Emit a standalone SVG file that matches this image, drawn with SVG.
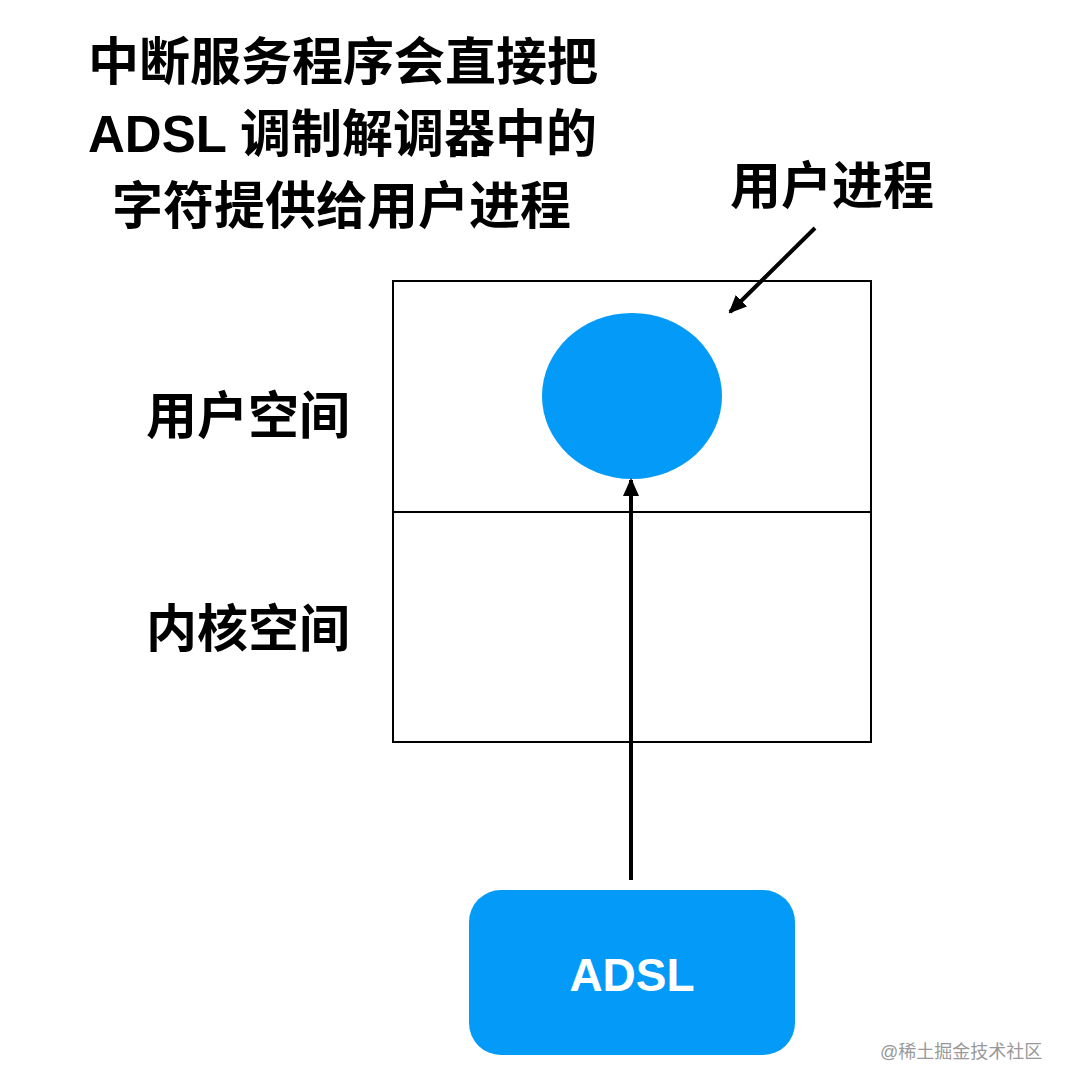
<svg xmlns="http://www.w3.org/2000/svg" width="1070" height="1090" viewBox="0 0 1070 1090">
<style>
.t{font-family:"Liberation Sans","Noto Sans CJK SC",sans-serif;font-weight:bold;fill:#000}
</style>
<defs>
<marker id="ah2" markerWidth="18" markerHeight="18" refX="16" refY="9" orient="auto" markerUnits="userSpaceOnUse" viewBox="0 0 18 18">
<path d="M0,1 L18,9 L0,17 z" fill="#000"/>
</marker>
</defs>
<rect width="1070" height="1090" fill="#fff"/>
<g id="title">
<text class="t" x="88" y="80" font-size="51">中断服务程序会直接把</text>
<text class="t" x="88" y="152" font-size="51">ADSL 调制解调器中的</text>
<text class="t" x="112" y="224" font-size="51">字符提供给用户进程</text>
</g>
<g id="box">
<rect x="393" y="281" width="478" height="461" fill="none" stroke="#000" stroke-width="2"/>
<line x1="393" y1="512" x2="871" y2="512" stroke="#000" stroke-width="2"/>
</g>
<g id="userlabel"><text class="t" x="146" y="434" font-size="51">用户空间</text></g>
<g id="kernellabel"><text class="t" x="146" y="647" font-size="51">内核空间</text></g>
<g id="proclabel"><text class="t" x="730" y="204" font-size="51">用户进程</text></g>
<g id="process"><ellipse cx="632" cy="396" rx="90" ry="83" fill="#039BF7"/></g>
<g id="adsl">
<rect x="469" y="890" width="326" height="165" rx="32" fill="#039BF7"/>
<text x="632" y="991" font-size="46" text-anchor="middle" font-family="Liberation Sans,sans-serif" font-weight="bold" fill="#fff">ADSL</text>
</g>
<g id="connectors">
<line x1="631" y1="880" x2="631" y2="480" stroke="#000" stroke-width="4" marker-end="url(#ah2)"/>
<line x1="815" y1="228" x2="730" y2="312" stroke="#000" stroke-width="4" marker-end="url(#ah2)"/>
</g>
<text x="880" y="1058" font-size="18" font-family="Liberation Sans,Noto Sans CJK SC,sans-serif" fill="#999">@稀土掘金技术社区</text>
</svg>
